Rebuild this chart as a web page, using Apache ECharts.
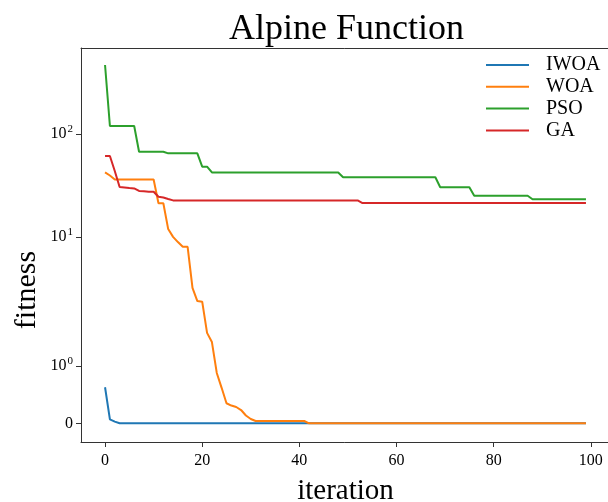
<!DOCTYPE html>
<html>
<head>
<meta charset="utf-8">
<script src="https://cdn.jsdelivr.net/npm/echarts@6/dist/echarts.min.js"></script>
<style>
  html, body { margin: 0; padding: 0; background: #fff; }
  #chart { width: 608px; height: 502px; }
</style>
</head>
<body>
<div id="chart"></div>
<script>
// fitness per iteration (index = iteration)
const iwoa = [
  0.63, 0.07, 0.03, 0, 0, 0, 0, 0, 0, 0,
  0, 0, 0, 0, 0, 0, 0, 0, 0, 0,
  0, 0, 0, 0, 0, 0, 0, 0, 0, 0,
  0, 0, 0, 0, 0, 0, 0, 0, 0, 0,
  0, 0, 0, 0, 0, 0, 0, 0, 0, 0,
  0, 0, 0, 0, 0, 0, 0, 0, 0, 0,
  0, 0, 0, 0, 0, 0, 0, 0, 0, 0,
  0, 0, 0, 0, 0, 0, 0, 0, 0, 0,
  0, 0, 0, 0, 0, 0, 0, 0, 0, 0,
  0, 0, 0, 0, 0, 0, 0, 0, 0, 0,
];
const woa = [
  42.2, 39.4, 36.1, 36.1, 36.1, 36.1, 36.1, 36.1, 36.1, 36.1,
  36.1, 21.2, 21.2, 11.9, 10.0, 8.9, 8.0, 8.0, 3.19, 2.38,
  2.35, 1.58, 1.42, 0.88, 0.62, 0.35, 0.31, 0.285, 0.232, 0.136,
  0.075, 0.04, 0.04, 0.04, 0.04, 0.04, 0.04, 0.04, 0.04, 0.04,
  0.04, 0.04, 0, 0, 0, 0, 0, 0, 0, 0,
  0, 0, 0, 0, 0, 0, 0, 0, 0, 0,
  0, 0, 0, 0, 0, 0, 0, 0, 0, 0,
  0, 0, 0, 0, 0, 0, 0, 0, 0, 0,
  0, 0, 0, 0, 0, 0, 0, 0, 0, 0,
  0, 0, 0, 0, 0, 0, 0, 0, 0, 0,
];
const pso = [
  466, 119.2, 119.2, 119.2, 119.2, 119.2, 119.2, 67.1, 67.1, 67.1,
  67.1, 67.1, 67.1, 64.7, 64.7, 64.7, 64.7, 64.7, 64.7, 64.7,
  48.0, 48.0, 42.2, 42.2, 42.2, 42.2, 42.2, 42.2, 42.2, 42.2,
  42.2, 42.2, 42.2, 42.2, 42.2, 42.2, 42.2, 42.2, 42.2, 42.2,
  42.2, 42.2, 42.2, 42.2, 42.2, 42.2, 42.2, 42.2, 42.2, 37.9,
  37.9, 37.9, 37.9, 37.9, 37.9, 37.9, 37.9, 37.9, 37.9, 37.9,
  37.9, 37.9, 37.9, 37.9, 37.9, 37.9, 37.9, 37.9, 37.9, 30.3,
  30.3, 30.3, 30.3, 30.3, 30.3, 30.3, 25.1, 25.1, 25.1, 25.1,
  25.1, 25.1, 25.1, 25.1, 25.1, 25.1, 25.1, 25.1, 23.2, 23.2,
  23.2, 23.2, 23.2, 23.2, 23.2, 23.2, 23.2, 23.2, 23.2, 23.2,
];
const ga = [
  60.9, 60.9, 43.6, 30.5, 30.2, 29.8, 29.5, 27.9, 27.7, 27.4,
  27.4, 24.5, 24.1, 23.3, 22.6, 22.6, 22.6, 22.6, 22.6, 22.6,
  22.6, 22.6, 22.6, 22.6, 22.6, 22.6, 22.6, 22.6, 22.6, 22.6,
  22.6, 22.6, 22.6, 22.6, 22.6, 22.6, 22.6, 22.6, 22.6, 22.6,
  22.6, 22.6, 22.6, 22.6, 22.6, 22.6, 22.6, 22.6, 22.6, 22.6,
  22.6, 22.6, 22.6, 21.3, 21.3, 21.3, 21.3, 21.3, 21.3, 21.3,
  21.3, 21.3, 21.3, 21.3, 21.3, 21.3, 21.3, 21.3, 21.3, 21.3,
  21.3, 21.3, 21.3, 21.3, 21.3, 21.3, 21.3, 21.3, 21.3, 21.3,
  21.3, 21.3, 21.3, 21.3, 21.3, 21.3, 21.3, 21.3, 21.3, 21.3,
  21.3, 21.3, 21.3, 21.3, 21.3, 21.3, 21.3, 21.3, 21.3, 21.3,
];

const seriesNames = ["IWOA", "WOA", "PSO", "GA"];
const xTicks = [0, 20, 40, 60, 80, 100];
const yTicks = [0, 1, 10, 100];
const yTickLabels = ["0", "10{sup|0}", "10{sup|1}", "10{sup|2}"];

// symlog like matplotlib (linthresh 2, linscale 1, base 10)
const LT = 2;
const LS = 1 / (1 - 1 / 10);
function symlog(v) {
  return v <= LT ? v * LS : LT * (LS + Math.log10(v / LT));
}

const font = '"Liberation Serif", "DejaVu Serif", serif';
const colors = ["#1f77b4", "#ff7f0e", "#2ca02c", "#d62728"];
const spine = "#333";
const yTickPos = yTicks.map(symlog);

function toPoints(arr) {
  return arr.map((v, i) => [i, symlog(v)]);
}

const chart = echarts.init(document.getElementById("chart"));

chart.setOption({
  animation: false,
  backgroundColor: "#fff",
  color: colors,
  title: {
    text: "Alpine Function",
    left: 224,
    top: 7,
    textStyle: { fontFamily: font, fontSize: 36, fontWeight: "normal", color: "#000" },
  },
  legend: {
    orient: "vertical",
    left: 481,
    top: 50,
    icon: "rect",
    itemWidth: 43,
    itemHeight: 2,
    itemGap: 1.8,
    data: seriesNames,
    textStyle: { fontFamily: font, fontSize: 20, lineHeight: 18, color: "#000", padding: [0, 0, 0, 12] },
  },
  grid: {
    left: 81,
    top: 48,
    width: 529,
    height: 394,
    show: false,
    outerBoundsMode: "none",
    containLabel: false,
  },
  xAxis: [
    {
      type: "value",
      min: -4.95,
      max: 103.95,
      name: "iteration",
      nameLocation: "middle",
      nameGap: 35,
      nameTextStyle: { fontFamily: font, fontSize: 29, color: "#000" },
      axisLine: { show: true, onZero: false, lineStyle: { color: spine, width: 1 } },
      axisTick: { show: true, length: 5, customValues: xTicks, lineStyle: { color: spine } },
      axisLabel: { customValues: xTicks, margin: 11, fontFamily: font, fontSize: 16, color: "#000" },
      splitLine: { show: false },
    },
    {
      // top spine
      type: "value",
      position: "top",
      min: -4.95,
      max: 103.95,
      axisLine: { show: true, onZero: false, lineStyle: { color: spine, width: 1 } },
      axisTick: { show: false },
      axisLabel: { show: false },
      splitLine: { show: false },
    },
  ],
  yAxis: {
    type: "value",
    min: -0.363,
    max: 7.287,
    axisLine: { show: true, onZero: false, lineStyle: { color: spine, width: 1 } },
    axisTick: { show: true, length: 5, customValues: yTickPos, lineStyle: { color: spine } },
    axisLabel: {
      customValues: yTickPos,
      margin: 8,
      fontFamily: font,
      fontSize: 16,
      color: "#000",
      formatter: function (val) {
        let k = 0;
        yTickPos.forEach((p, i) => { if (Math.abs(p - val) < 1e-6) k = i; });
        return yTickLabels[k];
      },
      rich: {
        sup: { fontFamily: font, fontSize: 11, color: "#000", verticalAlign: "bottom", padding: [0, 0, 9, 1] },
      },
    },
    splitLine: { show: false },
  },
  graphic: [
    {
      type: "text",
      x: 27,
      y: 290,
      rotation: Math.PI / 2,
      style: {
        text: "fitness",
        font: '30px "Liberation Serif"',
        fill: "#000",
        align: "center",
        verticalAlign: "middle",
      },
    },
  ],
  series: [
    { name: "IWOA", type: "line", data: toPoints(iwoa) },
    { name: "WOA", type: "line", data: toPoints(woa) },
    { name: "PSO", type: "line", data: toPoints(pso) },
    { name: "GA", type: "line", data: toPoints(ga) },
  ].map((s) => Object.assign(s, {
    symbol: "none",
    showSymbol: false,
    lineStyle: { width: 2 },
  })),
});
</script>
</body>
</html>
